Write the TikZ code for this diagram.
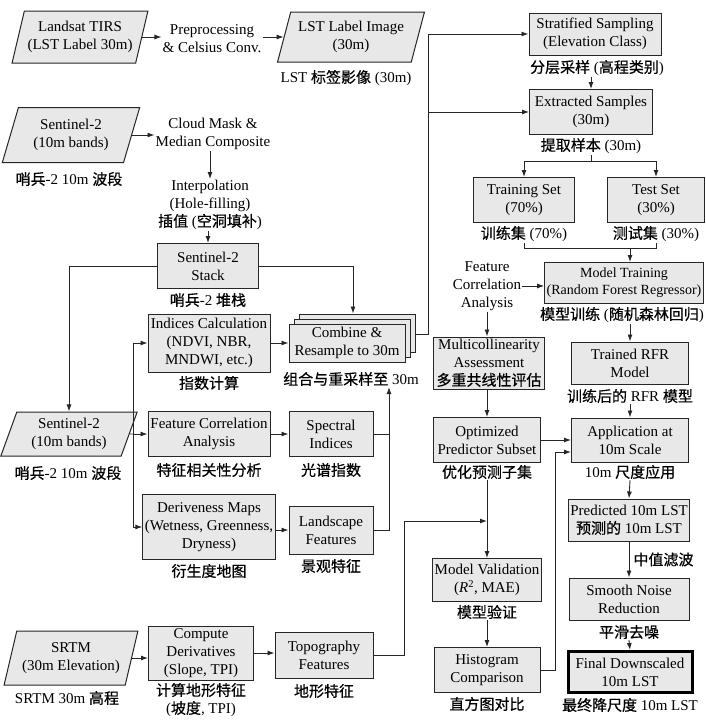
\documentclass[tikz,border=0pt]{standalone}
\usepackage{fontspec}
\setmainfont{Liberation Serif}
\newfontfamily\cjk{Noto Sans CJK SC}[FakeBold=0.6]
\usetikzlibrary{arrows.meta,shapes.geometric,shadows}
\newcommand{\zh}[1]{{\cjk #1}}
\tikzset{
    proc-box/.style = {draw=black!85, fill=black!9, line width=1pt, rectangle, align=center, inner sep=2pt, font=\fontsize{15}{18}\selectfont},
    data-box/.style = {proc-box, trapezium, trapezium left angle=72, trapezium right angle=108, trapezium stretches=true, inner xsep=0pt},
    plain-text/.style = {align=center, inner sep=1pt, font=\fontsize{15}{18}\selectfont},
    box-size/.style 2 args = {minimum width=#1, minimum height=#2},
    flow-line/.style = {draw=black!85, line width=0.9pt},
    flow-arrow/.style = {flow-line, -{Latex[length=7pt,width=5pt]}},
}
\begin{document}
\begin{tikzpicture}[x=1pt,y=-1pt]
\useasboundingbox (0,0) rectangle (705,723);

\node[data-box, box-size={136}{52}] (landsat) at (80,37) {Landsat TIRS\\(LST Label 30m)};
\node[plain-text] (prep) at (212,39) {Preprocessing\\\& Celsius Conv.};
\node[data-box, box-size={147}{50}] (lstimg) at (351,37) {LST Label Image\\(30m)};
\node[plain-text] (lstcap) at (346,78) {LST \zh{标签影像} (30m)};

\node[data-box, box-size={138}{55}] (s2top) at (71,135) {Sentinel-2\\(10m bands)};
\node[plain-text] (s2topcap) at (69,179) {\zh{哨兵}-2 10m \zh{波段}};
\node[plain-text] (cloud) at (213,134) {Cloud Mask \&\\Median Composite};
\node[plain-text] (interp) at (210,205) {Interpolation\\(Hole-filling)\\\zh{插值} (\zh{空洞填补})};
\node[proc-box, box-size={101}{45}] (stack) at (208,266) {Sentinel-2\\Stack};
\node[plain-text] (stackcap) at (208,300) {\zh{哨兵}-2 \zh{堆栈}};

\node[proc-box, box-size={122}{58}] (indices) at (209,343) {Indices Calculation\\(NDVI, NBR,\\MNDWI, etc.)};
\node[plain-text] (indicescap) at (209,383) {\zh{指数计算}};
\node[proc-box, box-size={116}{38}, double copy shadow={shadow xshift=5pt, shadow yshift=5pt}] (combine) at (347,343) {Combine \&\\Resample to 30m};
\node[plain-text] (combinecap) at (351,379) {\zh{组合与重采样至} 30m};

\node[data-box, box-size={137}{44}] (s2bot) at (69,434) {Sentinel-2\\(10m bands)};
\node[plain-text] (s2botcap) at (68,473) {\zh{哨兵}-2 10m \zh{波段}};
\node[proc-box, box-size={122}{45}] (featbox) at (209,434) {Feature Correlation\\Analysis};
\node[plain-text] (featboxcap) at (209,470) {\zh{特征相关性分析}};
\node[proc-box, box-size={84}{45}] (spectral) at (331,434) {Spectral\\Indices};
\node[plain-text] (spectralcap) at (331,470) {\zh{光谱指数}};
\node[proc-box, box-size={122}{65}] (deriv) at (209,527) {Deriveness Maps\\(Wetness, Greenness,\\Dryness)};
\node[plain-text] (derivcap) at (209,571) {\zh{衍生度地图}};
\node[proc-box, box-size={84}{48}] (landscape) at (331,530) {Landscape\\Features};
\node[plain-text] (landscapecap) at (331,566) {\zh{景观特征}};

\node[data-box, box-size={134}{54}] (srtm) at (71,658) {SRTM\\(30m Elevation)};
\node[plain-text] (srtmcap) at (67,698) {SRTM 30m \zh{高程}};
\node[proc-box, box-size={105}{54}] (compute) at (201,653) {Compute\\Derivatives\\(Slope, TPI)};
\node[plain-text] (computecap) at (201,700) {\zh{计算地形特征}\\(\zh{坡度}, TPI)};
\node[proc-box, box-size={98}{46}] (topo) at (324,655) {Topography\\Features};
\node[plain-text] (topocap) at (324,691) {\zh{地形特征}};

\node[proc-box, box-size={132}{42}] (strat) at (595,34) {Stratified Sampling\\(Elevation Class)};
\node[plain-text] (stratcap) at (597,68) {\zh{分层采样} (\zh{高程类别})};
\node[proc-box, box-size={123}{45}] (extr) at (591,112) {Extracted Samples\\(30m)};
\node[plain-text] (extrcap) at (591,146) {\zh{提取样本} (30m)};
\node[proc-box, box-size={101}{45}] (train) at (524,200) {Training Set\\(70\%)};
\node[plain-text] (traincap) at (524,234) {\zh{训练集} (70\%)};
\node[proc-box, box-size={97}{45}] (test) at (656,200) {Test Set\\(30\%)};
\node[plain-text] (testcap) at (656,234) {\zh{测试集} (30\%)};
\node[proc-box, box-size={158}{41}, font=\fontsize{14}{17}\selectfont] (mtrain) at (624,283) {Model Training\\(Random Forest Regressor)};
\node[plain-text] (mtraincap) at (622,315) {\zh{模型训练} (\zh{随机森林回归})};
\node[plain-text] (featcorr) at (487,286) {Feature\\Correlation\\Analysis};
\node[proc-box, box-size={111}{52}, inner ysep=0pt] (multi) at (489,363) {Multicollinearity\\Assessment\\\zh{多重共线性评估}};
\node[proc-box, box-size={107}{45}] (opt) at (487,440) {Optimized\\Predictor Subset};
\node[plain-text] (optcap) at (487,472) {\zh{优化预测子集}};
\node[proc-box, box-size={117}{42}] (trained) at (630,363) {Trained RFR\\Model};
\node[plain-text] (trainedcap) at (630,396) {\zh{训练后的} RFR \zh{模型}};
\node[proc-box, box-size={117}{44}] (apply) at (630,440) {Application at\\10m Scale};
\node[plain-text] (applycap) at (630,472) {10m \zh{尺度应用}};
\node[proc-box, box-size={120}{42}] (pred) at (629,520) {Predicted 10m LST\\\zh{预测的} 10m LST};
\node[proc-box, box-size={120}{42}] (smooth) at (629,599) {Smooth Noise\\Reduction};
\node[plain-text] (smoothcap) at (629,632) {\zh{平滑去噪}};
\node[proc-box, box-size={124}{41}, draw=black, line width=3pt] (final) at (630,672) {Final Downscaled\\10m LST};
\node[plain-text] (finalcap) at (630,705) {\zh{最终降尺度} 10m LST};
\node[proc-box, box-size={106}{43}] (mval) at (487,580) {Model Validation\\(\textit{R}\textsuperscript{2}, MAE)};
\node[plain-text] (mvalcap) at (487,612) {\zh{模型验证}};
\node[proc-box, box-size={106}{45}] (hist) at (487,670) {Histogram\\Comparison};
\node[plain-text] (histcap) at (487,704) {\zh{直方图对比}};

\draw[flow-arrow] (landsat.east) -- (landsat.east -| prep.west);
\draw[flow-arrow] (prep.east |- lstimg.west) -- (lstimg.west);
\draw[flow-arrow] (s2top.east) -- (s2top.east -| cloud.west);
\draw[flow-arrow] (interp.north |- cloud.south) -- (interp.north);
\draw[flow-arrow] (stack.north |- interp.south) -- (stack.north);
\draw[flow-arrow] (stack.west) -| (s2bot.north);
\draw[flow-arrow] (stack.east) -| ([xshift=6pt,yshift=10pt]combine.north);

\draw[flow-line] ([xshift=10pt,yshift=9pt]combine.east) -- ++(13,0) coordinate (bus);
\draw[flow-arrow] (bus) |- (strat.west);
\draw[flow-arrow] (bus) |- (extr.west);
\draw[flow-arrow] (extr.north |- stratcap.south) -- (extr.north);
\draw[flow-line] (extrcap.south) -- ++(0,6) coordinate (split);
\draw[flow-arrow] (split) -| (train.north);
\draw[flow-arrow] (split) -| (test.north);
\draw[flow-line] (traincap.south) -- ++(0,5) coordinate (merge) -| (testcap.south);
\draw[flow-arrow] (merge -| trained.north) -- (trained.north |- mtrain.north);

\draw[flow-arrow] (featcorr.east) -- (featcorr.east -| mtrain.west);
\draw[flow-arrow] (featcorr.south) -- (featcorr.south |- multi.north);
\draw[flow-arrow] (multi.south -| opt.north) -- (opt.north);
\draw[flow-arrow] (opt.east) -- (apply.west);
\draw[flow-arrow] (optcap.south) -- (mval.north);
\draw[flow-arrow] (trained.north |- mtraincap.south) -- (trained.north);
\draw[flow-arrow] (trainedcap.south) -- (apply.north);
\draw[flow-arrow] (applycap.south) -- (pred.north);
\draw[flow-arrow] (pred.south) -- node[plain-text, right=3pt] (medlbl) {\zh{中值滤波}} (smooth.north);
\draw[flow-arrow] (smoothcap.south) -- (final.north);
\draw[flow-arrow] (mvalcap.south) -- (hist.north);
\draw[flow-arrow] (hist.east) -- ++(15,0) |- ([yshift=-12pt]apply.west);
\coordinate (valin) at (487,521);
\draw[flow-arrow] (topo.east) -- ++(31,0) |- (valin);

\coordinate (fork) at (133,434);
\draw[flow-line] (s2bot.east) -- (fork);
\draw[flow-arrow] (fork) |- (indices.west);
\draw[flow-arrow] (fork) -- (featbox.west);
\draw[flow-arrow] (fork) |- (deriv.west);
\draw[flow-arrow] (indices.east) -- (combine.west);
\draw[flow-arrow] (featbox.east) -- (spectral.west);
\draw[flow-arrow] (landscape.west -| deriv.east) -- (landscape.west);
\coordinate (upin) at ([xshift=38pt]combinecap.south);
\draw[flow-arrow] (landscape.east) -| (upin);
\draw[flow-line] (spectral.east) -- (spectral.east -| upin);
\draw[flow-arrow] (srtm.east) -- (srtm.east -| compute.west);
\draw[flow-arrow] (compute.east) -- (compute.east -| topo.west);
\end{tikzpicture}
\end{document}
